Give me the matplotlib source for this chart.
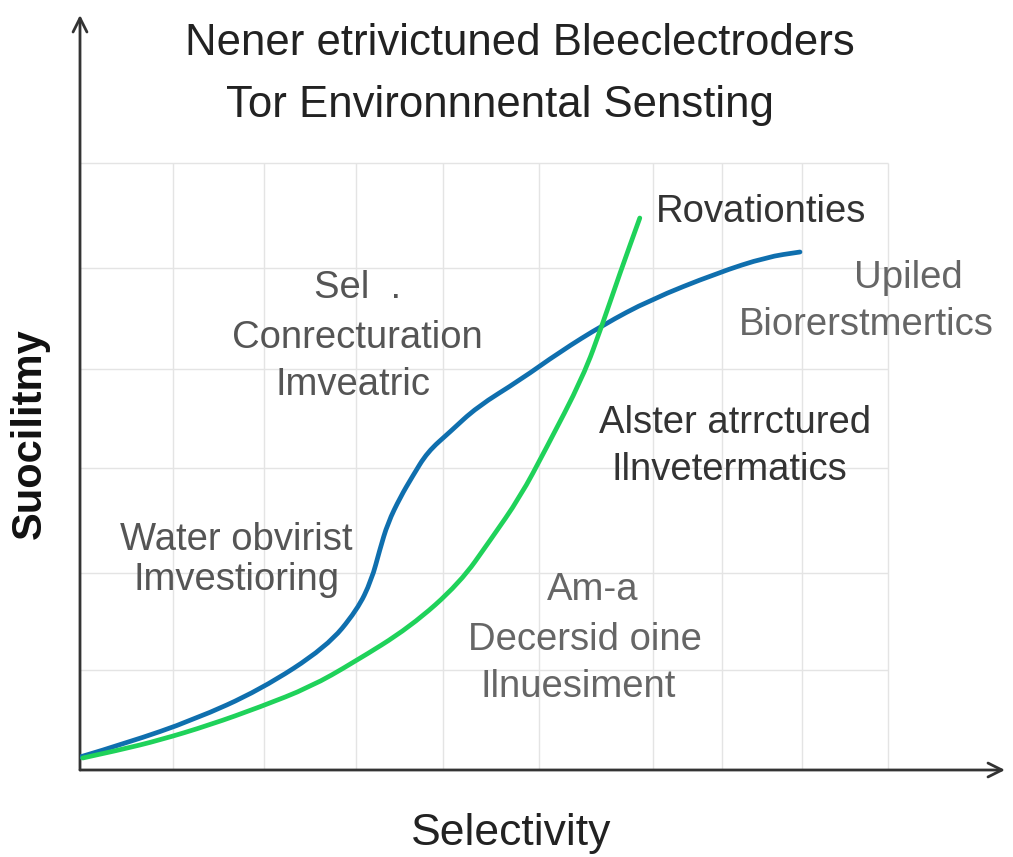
import matplotlib
matplotlib.use("Agg")
import matplotlib.pyplot as plt
from matplotlib.path import Path
from matplotlib.patches import PathPatch

plt.rcParams['font.family'] = ['Liberation Sans', 'DejaVu Sans']

# data (x = selectivity units, y = response units)
blue_x = [0, 0.52, 1.26, 2.0, 2.74, 3.08, 3.24, 3.33, 3.42, 3.56, 3.69, 3.86, 4.11, 4.41, 4.89, 5.33, 5.81, 6.33, 7.08, 7.63, 8.0]
blue_y = [0.13, 0.27, 0.50, 0.80, 1.23, 1.60, 1.90, 2.20, 2.47, 2.73, 2.93, 3.18, 3.38, 3.63, 3.90, 4.18, 4.45, 4.70, 4.97, 5.13, 5.18]

green_x = [0.03, 0.44, 0.89, 1.44, 2.0, 2.56, 3.03, 3.67, 4.22, 4.56, 4.89, 5.17, 5.59, 5.81, 6.0, 6.22]
green_y = [0.12, 0.20, 0.30, 0.45, 0.63, 0.83, 1.07, 1.43, 1.87, 2.30, 2.73, 3.20, 3.93, 4.47, 4.97, 5.52]

grid_x = [1.03, 2.04, 3.07, 4.03, 5.1, 6.37, 7.13, 8.02, 8.98]
grid_y = [1.0, 1.97, 3.02, 4.01, 5.02, 6.07]

title_lines = ["Nener etrivictuned Bleeclectroders", "Tor Environnnental Sensting"]
xlabel = "Selectivity"
ylabel = "Suocilitmy"

# annotations: (text, x, y, color)
notes = [
    ("Sel  .", 3.08, 4.72, '#555555'),
    ("Conrecturation", 3.08, 4.22, '#555555'),
    ("Imveatric", 3.03, 3.75, '#555555'),
    ("Water obvirist", 1.74, 2.20, '#555555'),
    ("Imvestioring", 1.74, 1.80, '#555555'),
    ("Am-a", 5.70, 1.70, '#666666'),
    ("Decersid oine", 5.61, 1.20, '#666666'),
    ("Ilnuesiment", 5.54, 0.73, '#666666'),
    ("Alster atrrctured", 7.28, 3.37, '#333333'),
    ("Ilnvetermatics", 7.22, 2.90, '#333333'),
    ("Rovationties", 7.57, 5.48, '#333333'),
    ("Upiled", 9.20, 4.82, '#666666'),
    ("Biorerstmertics", 8.74, 4.35, '#666666'),
]


def smooth_path(xs, ys):
    # quadratic bezier through midpoints, data points as control points
    pts = list(zip(xs, ys))
    verts = [pts[0]]
    codes = [Path.MOVETO]
    for i in range(1, len(pts) - 1):
        mid = ((pts[i][0] + pts[i + 1][0]) / 2, (pts[i][1] + pts[i + 1][1]) / 2)
        verts += [pts[i], mid]
        codes += [Path.CURVE3, Path.CURVE3]
    verts.append(pts[-1])
    codes.append(Path.LINETO)
    return Path(verts, codes)


W, H = 1013, 857
fig = plt.figure(figsize=(W / 100, H / 100), dpi=100)
ax = fig.add_axes([80 / W, (H - 770) / H, (1005 - 80) / W, (770 - 15) / H])
ax.set_xlim(0, 925 / 90)
ax.set_ylim(0, 7.55)

for s in ax.spines.values():
    s.set_visible(False)
ax.set_xticks([])
ax.set_yticks([])

# faint grid
ax.vlines(grid_x, 0, grid_y[-1], color='#e4e4e4', lw=1, zorder=0)
ax.hlines(grid_y, 0, grid_x[-1], color='#e4e4e4', lw=1, zorder=0)

# axis arrows
arrow = dict(arrowstyle='->', color='#333333', lw=2, mutation_scale=25, shrinkA=0, shrinkB=0)
ax.annotate('', xy=(1, 0), xytext=(0, 0), xycoords='axes fraction', arrowprops=arrow)
ax.annotate('', xy=(0, 1), xytext=(0, 0), xycoords='axes fraction', arrowprops=arrow)

for xs, ys, c in [(blue_x, blue_y, '#0f6fae'), (green_x, green_y, '#1fd25a')]:
    ax.add_patch(PathPatch(smooth_path(xs, ys), fill=False, edgecolor=c, lw=3.4,
                           capstyle='round', joinstyle='round', zorder=3))

for txt, x, y, c in notes:
    ax.text(x, y, txt, ha='center', va='baseline', fontsize=27.5, color=c, zorder=4)

fig.text(520 / W, 1 - 55 / H, title_lines[0], ha='center', va='baseline', fontsize=31.5, color='#222222')
fig.text(500 / W, 1 - 117 / H, title_lines[1], ha='center', va='baseline', fontsize=31.5, color='#222222')

fig.text(511 / W, 1 - 845 / H, xlabel, ha='center', va='baseline', fontsize=32, color='#222222')
fig.text(30 / W, 1 - 434 / H, ylabel, ha='center', va='center', rotation=90, fontsize=30,
         color='#111111', fontweight='bold')

fig.savefig('out.png', dpi=100)
